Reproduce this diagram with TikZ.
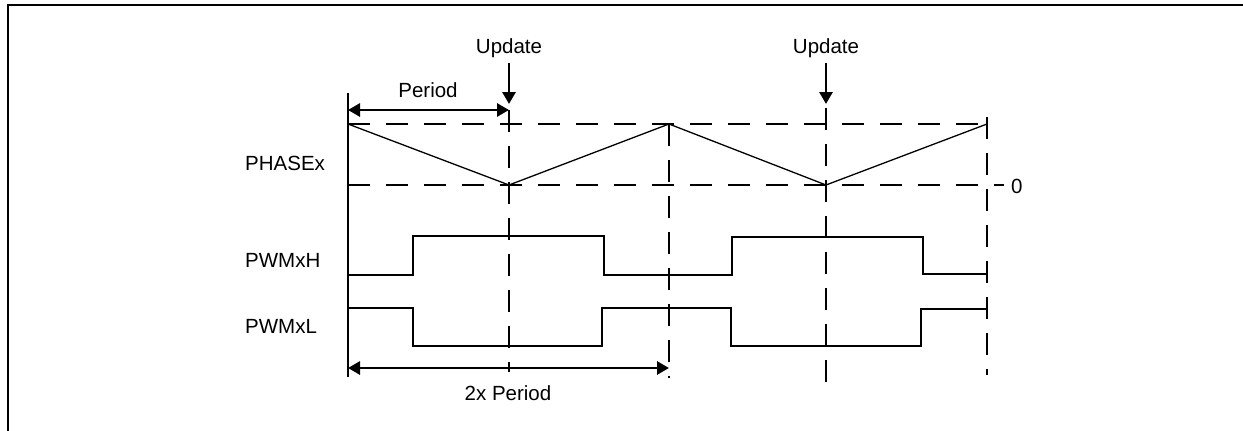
\documentclass[tikz,border=0pt]{standalone}
\usepackage{fontspec}
\setmainfont{Liberation Sans}
\usetikzlibrary{arrows.meta}
\begin{document}
\begin{tikzpicture}[x=1pt,y=-1pt,
  thickline/.style={line width=2.9pt},
  thinline/.style={line width=1.3pt},
  dashh/.style={line width=2.9pt,dash pattern=on 22pt off 16pt},
  dashv/.style={line width=2.9pt,dash pattern=on 22pt off 14pt},
  arr/.style={line width=2.9pt,-{Triangle[length=12pt,width=13pt]}},
  lbl/.style={font=\fontsize{20.5}{24}\selectfont,inner sep=0pt},
  siglbl/.style={lbl,anchor=west}]
\useasboundingbox (0,0) rectangle (1243,431);
% frame
\draw[thickline] (8,431) -- (8,5) -- (1243,5);
% key coordinates
\coordinate (axT) at (348,93);
\coordinate (axB) at (348,377);
\coordinate (t0) at (348,124);
\coordinate (b1) at (509,185);
\coordinate (t1) at (669,124);
\coordinate (b2) at (826,185);
\coordinate (t2) at (987,124);
% labels
\node[siglbl] (phase) at (245,163) {PHASEx};
\node[siglbl] (pwmh) at (245,260) {PWMxH};
\node[siglbl] (pwml) at (245,326) {PWMxL};
\node[lbl] (up1) at (509,48) {Update};
\node[lbl] (up2) at (826,48) {Update};
\node[lbl] (per) at (428,90) {Period};
\node[lbl] (per2) at (508,393) {2x Period};
\node[lbl,anchor=west] (zero) at (1011,186) {0};
% vertical axis
\draw[thickline] (axT) -- (axB);
% dashed reference lines
\draw[dashh] (t0) -- (t2);
\draw[dashh] (348,185) -- (1004,185);
\draw[dashv] (509,110) -- (509,372);
\draw[dashv] (669,124) -- (669,378);
\draw[dashv] (826,108) -- (826,382);
\draw[dashv] (987,117) -- (987,375);
% triangle carrier
\draw[thinline] (t0) -- (b1) -- (t1) -- (b2) -- (t2);
% PWMxH
\draw[thickline] (348,275) -- (413,275) -- (413,236) -- (604,236) -- (604,275)
  -- (732,275) -- (732,237) -- (923,237) -- (923,274) -- (987,274);
% PWMxL
\draw[thickline] (348,308) -- (413,308) -- (413,346) -- (602,346) -- (602,308)
  -- (731,308) -- (731,346) -- (921,346) -- (921,309) -- (987,309);
% arrows
\coordinate (pL) at (348,110);
\coordinate (pR) at (509,110);
\draw[arr,{Triangle[length=12pt,width=13pt]}-{Triangle[length=12pt,width=13pt]}] (pL) -- (pR);
\coordinate (qL) at (348,368);
\coordinate (qR) at (669,368);
\draw[arr,{Triangle[length=12pt,width=13pt]}-{Triangle[length=12pt,width=13pt]}] (qL) -- (qR);
\draw[arr] (up1.south |- 0,63) -- (509,104);
\draw[arr] (up2.south |- 0,63) -- (826,104);
\end{tikzpicture}
\end{document}
